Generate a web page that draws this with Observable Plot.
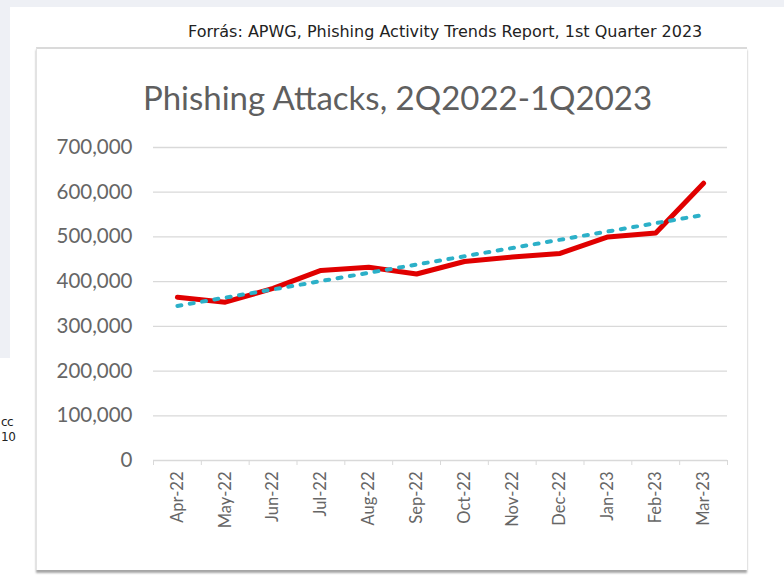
<!DOCTYPE html>
<html><head><meta charset="utf-8">
<script src="https://cdn.jsdelivr.net/npm/d3@7"></script>
<script src="https://cdn.jsdelivr.net/npm/@observablehq/plot@0.6"></script>
<style>
html,body{margin:0;padding:0;}
body{width:784px;height:587px;background:#fff;position:relative;overflow:hidden;font-family:"DejaVu Sans",sans-serif;}
#topband{position:absolute;left:0;top:0;width:784px;height:7px;background:#eef0f5;}
#sidebar{position:absolute;left:0;top:0;width:10px;height:358px;background:#eef0f5;}
#clipped{position:absolute;left:1px;top:415px;font-size:12px;line-height:15px;color:#222;white-space:nowrap;letter-spacing:-0.5px;}
#source{position:absolute;left:188px;top:22px;font-family:"DejaVu Sans",sans-serif;font-size:16px;line-height:19px;color:#222;white-space:nowrap;}
#card{position:absolute;left:36px;top:47px;width:711px;height:523px;background:#fff;border-top:2px solid #dadada;border-left:1px solid #e3e3e3;box-shadow:0 3px 2px rgba(0,0,0,0.35);box-sizing:border-box;}
#title{position:absolute;left:5px;top:28px;width:711px;text-align:center;font-family:Lato,sans-serif;font-size:33px;line-height:40px;color:#5f5f5f;white-space:nowrap;}
#chart{position:absolute;left:-1px;top:-2px;}
</style></head>
<body>
<div id="topband"></div>
<div id="sidebar"></div>
<div id="clipped">cc<br>10</div>
<div id="source">Forrás: APWG, Phishing Activity Trends Report, 1st Quarter 2023</div>
<div id="card">
  <div id="title">Phishing Attacks, 2Q2022-1Q2023</div>
  <div id="chart"></div>
</div>
<script>
const months = ["Apr-22","May-22","Jun-22","Jul-22","Aug-22","Sep-22","Oct-22","Nov-22","Dec-22","Jan-23","Feb-23","Mar-23"];
const attacks = [365000,354000,385000,425000,432000,417000,445000,455000,463000,500000,509000,620000];
const yTicks = [0,100000,200000,300000,400000,500000,600000,700000];

const data = months.map((m, i) => ({i, month: m, attacks: attacks[i]}));
const boundaries = d3.range(months.length + 1).map(k => k - 0.5);
const centers = d3.range(months.length);

const chart = Plot.plot({
  width: 711,
  height: 523,
  marginLeft: 117,
  marginRight: 20,
  marginTop: 100,
  marginBottom: 110,
  x: {type: "linear", domain: [-0.5, months.length - 0.5], label: null},
  y: {domain: [0, 700000], label: null},
  style: {fontFamily: "Lato, sans-serif", color: "#666", background: "transparent", overflow: "visible"},
  marks: [
    Plot.gridY(yTicks.slice(1), {stroke: "#d9d9d9", strokeOpacity: 1, strokeWidth: 1.3}),
    Plot.ruleY([0], {stroke: "#d9d9d9", strokeWidth: 1.3}),
    Plot.axisY(yTicks, {tickSize: 0, tickPadding: 21, tickFormat: d3.format(","), fontSize: 20.5, fill: "#666"}),
    Plot.axisX(boundaries, {tickSize: 5, stroke: "#d9d9d9", tickFormat: () => ""}),
    Plot.axisX(centers, {tickSize: 0, tickPadding: 11, tickRotate: -90, tickFormat: i => months[i], fontSize: 16.5, fill: "#666"}),
    Plot.line(data, {x: "i", y: "attacks", stroke: "#e00000", strokeWidth: 5, strokeLinejoin: "round", strokeLinecap: "round"}),
    Plot.linearRegressionY(data, {x: "i", y: "attacks", ci: 0, stroke: "#2cb0c8", strokeWidth: 4, strokeDasharray: "4 8.5"})
  ]
});
document.getElementById("chart").appendChild(chart);
</script>
</body></html>
